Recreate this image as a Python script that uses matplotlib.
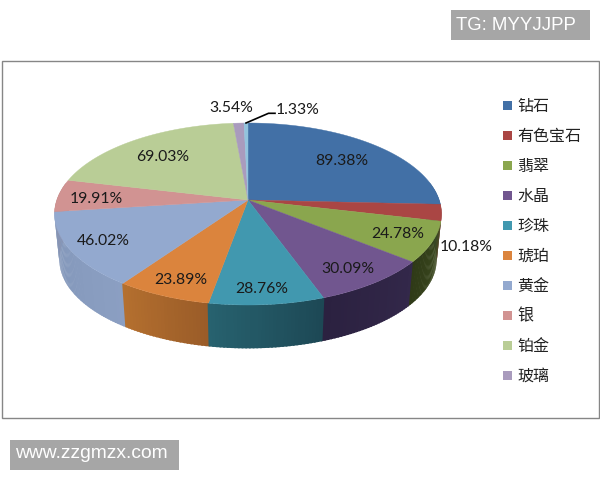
import numpy as np
import matplotlib
matplotlib.use("Agg")
import matplotlib.pyplot as plt
from matplotlib.colors import to_rgb
from matplotlib.patches import Polygon, Rectangle

categories = ["钻石", "有色宝石", "翡翠", "水晶", "珍珠", "琥珀", "黄金", "银", "铂金", "玻璃"]
values = [89.38, 10.18, 24.78, 30.09, 28.76, 23.89, 46.02, 19.91, 69.03, 3.54, 1.33]
top_colors = ["#4270a6", "#aa4644", "#8aa64e", "#71568f", "#4198af", "#db843d",
              "#93a9cf", "#d19392", "#b9cd96", "#a99bbd", "#92c3dd"]
# wall colours, left end and right end of each slice as seen from the front
wall_left = ["#2f5078", "#7a3230", "#2f3a17", "#2b2140", "#27626f", "#b5702f",
             "#8195b8", "#a87675", "#93a777", "#8a7ea0", "#7aa4ba"]
wall_right = ["#2f5078", "#7a3230", "#3d4b20", "#33284a", "#1d4855", "#9a5c28",
              "#8b9fc2", "#a87675", "#93a777", "#8a7ea0", "#7aa4ba"]
labels = ["89.38%", "10.18%", "24.78%", "30.09%", "28.76%", "23.89%",
          "46.02%", "19.91%", "69.03%", "3.54%", "1.33%"]
label_pos = [(342, 161), (466, 247), (398, 234), (348, 269), (262, 289), (181, 280),
             (103, 241), (96, 199), (163, 157), (231, 108), (298, 110)]

# top face of the pie, a circle seen in perspective
cx, cy = 248, 200
A, B, k = 191.2, 88.85, 0.1538
depth, shrink = 46, 0.975


def rim(theta):
    # theta clockwise from the top of the pie
    u, v = np.sin(theta), np.cos(theta)
    w = 1 + k * v
    return cx + A * u / w, cy - B * v / w


fig = plt.figure(figsize=(6, 4.8), dpi=100)
ax = fig.add_axes([0, 0, 1, 1])
ax.set_xlim(0, 600)
ax.set_ylim(480, 0)
ax.axis("off")

ax.add_patch(Rectangle((1.5, 60.5), 597, 357.5, fc="white", ec="#868686", lw=1.0))

edges = np.concatenate([[0], np.cumsum(values)]) / np.sum(values) * 2 * np.pi

# walls: thin strips, back to front, so each slice gets a gradient
strips = []
for i in range(len(values)):
    n = max(int((edges[i + 1] - edges[i]) * 60), 2)
    t = np.linspace(edges[i], edges[i + 1], n + 1)
    c0, c1 = np.array(to_rgb(wall_right[i])), np.array(to_rgb(wall_left[i]))
    for j in range(n):
        f = (j + 0.5) / n
        strips.append((t[j], t[j + 1], c0 * (1 - f) + c1 * f))
strips.sort(key=lambda s: -np.cos((s[0] + s[1]) / 2))

for t0, t1, col in strips:
    if np.cos((t0 + t1) / 2) > 0.2:
        continue
    # small overlap so no seams show between strips
    tt = np.array([t0 - 0.004, t1 + 0.004])
    x, y = rim(tt)
    xb = cx + shrink * (x - cx)
    yb = cy + depth + shrink * (y - cy)
    pts = np.column_stack([np.r_[x, xb[::-1]], np.r_[y, yb[::-1]]])
    ax.add_patch(Polygon(pts, fc=col, ec="none"))

# top face
for i in range(len(values)):
    t = np.linspace(edges[i], edges[i + 1], 80)
    x, y = rim(t)
    pts = np.column_stack([np.r_[cx, x], np.r_[cy, y]])
    ax.add_patch(Polygon(pts, fc=top_colors[i], ec=top_colors[i], lw=0.3))

for lab, (lx, ly) in zip(labels, label_pos):
    ax.text(lx, ly, lab, family="Lato", fontsize=11.3, color="#1a1a1a", ha="center", va="center")

# leader line for the smallest slice
mid = (edges[-2] + edges[-1]) / 2
x0, y0 = rim(mid)
ax.plot([x0, 268.5, 275], [y0, 113.3, 113.3], color="black", lw=1.2)

# legend
for i, name in enumerate(categories):
    y = 105 + 30 * i
    ax.add_patch(Rectangle((503, y - 4.5), 9, 9, fc=top_colors[i], ec="none"))
    ax.text(517, y + 1, name, family="Noto Sans CJK SC", fontsize=11.5, color="#222222",
            ha="left", va="center")

# watermarks
ax.add_patch(Rectangle((451, 10), 139, 30, fc="#a6a6a6", ec="none"))
ax.text(456, 25.5, "TG: MYYJJPP", family="Liberation Sans", fontsize=13.4, color="white",
        ha="left", va="center")
ax.add_patch(Rectangle((10, 440), 169, 30, fc="#a6a6a6", ec="none"))
ax.text(15, 453, "www.zzgmzx.com", family="Liberation Sans", fontsize=13.9, color="white",
        ha="left", va="center")

fig.savefig("out.png", dpi=100)
